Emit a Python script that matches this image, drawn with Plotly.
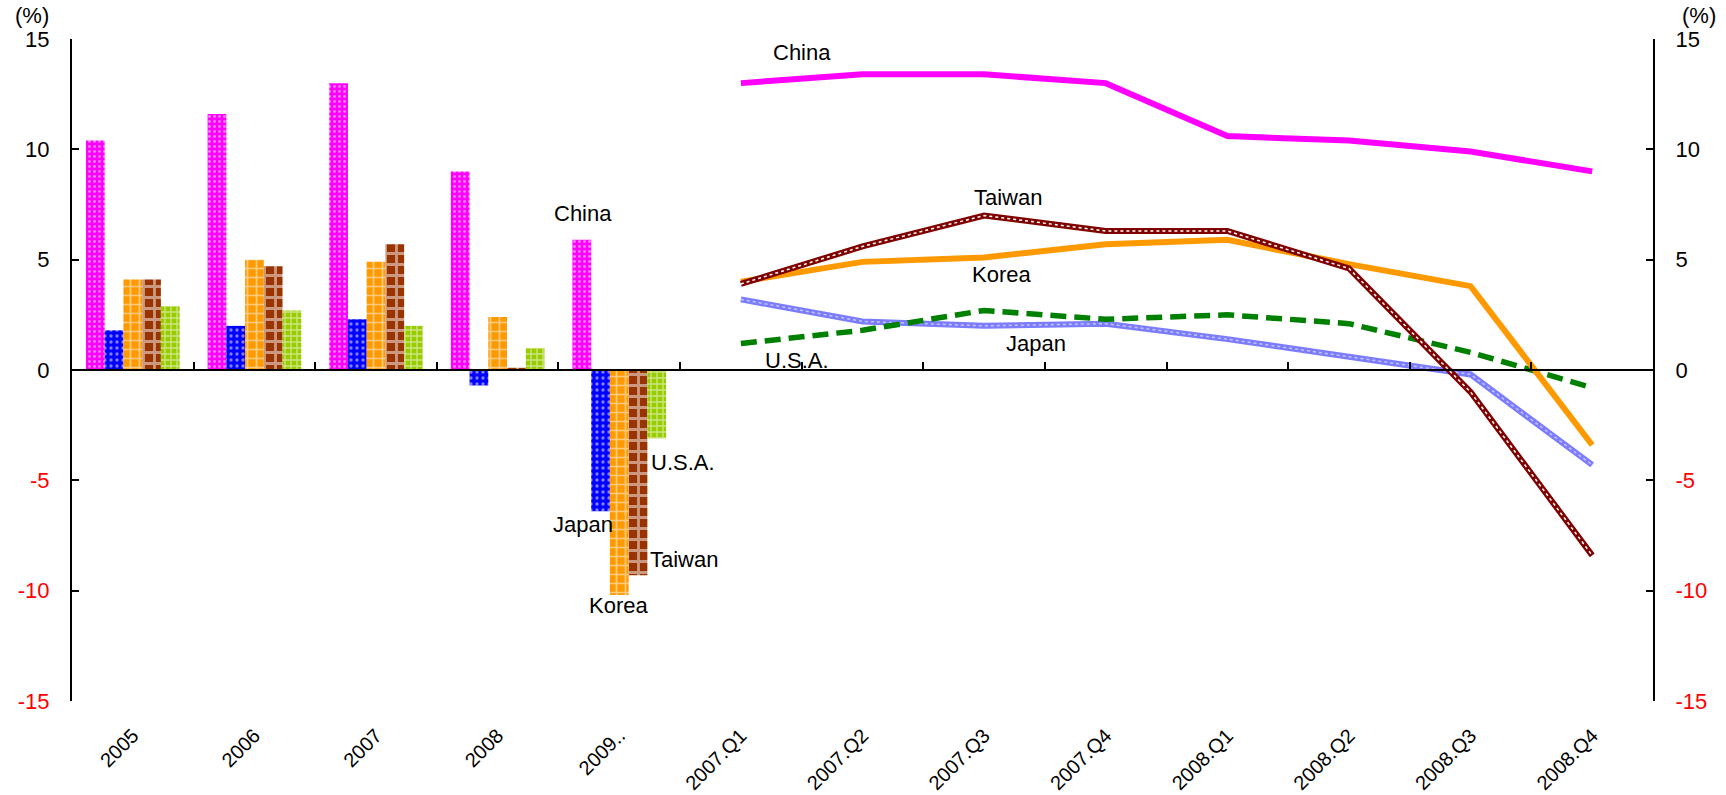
import plotly.graph_objects as go

# Category axis: annual results (bars) followed by quarterly results (lines)
years = ["2005", "2006", "2007", "2008", "2009.."]
quarters = ["2007.Q1", "2007.Q2", "2007.Q3", "2007.Q4",
            "2008.Q1", "2008.Q2", "2008.Q3", "2008.Q4"]
categories = years + quarters

# Annual real GDP growth (%)
china_y = [10.4, 11.6, 13.0, 9.0, 5.9]
japan_y = [1.8, 2.0, 2.3, -0.7, -6.4]
korea_y = [4.1, 5.0, 4.9, 2.4, -10.2]
taiwan_y = [4.1, 4.7, 5.7, 0.1, -9.3]
usa_y = [2.9, 2.7, 2.0, 1.0, -3.1]

# Quarterly real GDP growth, year on year (%)
china_q = [13.0, 13.4, 13.4, 13.0, 10.6, 10.4, 9.9, 9.0]
japan_q = [3.2, 2.2, 2.0, 2.1, 1.4, 0.6, -0.2, -4.3]
korea_q = [4.0, 4.9, 5.1, 5.7, 5.9, 4.8, 3.8, -3.4]
taiwan_q = [3.9, 5.6, 7.0, 6.3, 6.3, 4.6, -1.0, -8.4]
usa_q = [1.2, 1.8, 2.7, 2.3, 2.5, 2.1, 0.8, -0.8]

# Value axis ticks
y_ticks = [-15, -10, -5, 0, 5, 10, 15]
y_ticktext = [f"<span style='color:#ff0000'>{v}</span>" if v < 0 else str(v) for v in y_ticks]

FONT = "Arial, 'Liberation Sans', sans-serif"
FS = 22
FS_X = 20

fig = go.Figure()

# Annual bars with patterned fills
bar_specs = [
    ("China", china_y, "#ff00ff", ".", 5, 0.25),
    ("Japan", japan_y, "#0000ff", ".", 6, 0.25),
    ("Korea", korea_y, "#ff9900", "+", 9, 0.35),
    ("Taiwan", taiwan_y, "#993300", "+", 11, 0.45),
    ("U.S.A.", usa_y, "#99cc00", "+", 6, 0.4),
]
for name, vals, col, shape, size, sol in bar_specs:
    fig.add_trace(go.Bar(
        x=years, y=vals, name=name, xaxis="x", yaxis="y",
        marker=dict(color=col, line=dict(width=0),
                    pattern=dict(shape=shape, fgcolor="white", size=size,
                                 solidity=sol, fillmode="overlay")),
        showlegend=False,
    ))

# Quarterly lines
fig.add_trace(go.Scatter(x=quarters, y=japan_q, mode="lines", xaxis="x2", yaxis="y2",
                         line=dict(color="#7c7cff", width=6), showlegend=False))
fig.add_trace(go.Scatter(x=quarters, y=japan_q, mode="lines", xaxis="x2", yaxis="y2",
                         line=dict(color="#c4c4ff", width=1.5, dash="dot"), showlegend=False))
fig.add_trace(go.Scatter(x=quarters, y=usa_q, mode="lines", xaxis="x2", yaxis="y2",
                         line=dict(color="#008000", width=5.5, dash="16px,8px"), showlegend=False))
fig.add_trace(go.Scatter(x=quarters, y=korea_q, mode="lines", xaxis="x2", yaxis="y2",
                         line=dict(color="#ff9900", width=6), showlegend=False))
fig.add_trace(go.Scatter(x=quarters, y=taiwan_q, mode="lines", xaxis="x2", yaxis="y2",
                         line=dict(color="#800000", width=6), showlegend=False))
fig.add_trace(go.Scatter(x=quarters, y=taiwan_q, mode="lines", xaxis="x2", yaxis="y2",
                         line=dict(color="#ffffff", width=1.5, dash="dot"), showlegend=False))
fig.add_trace(go.Scatter(x=quarters, y=china_q, mode="lines", xaxis="x2", yaxis="y2",
                         line=dict(color="#ff00ff", width=6), showlegend=False))

# Series labels (x in category index units)
labels = [
    ("China", 3.70, 7.1), ("Japan", 3.70, -7.0), ("Korea", 3.99, -10.65),
    ("Taiwan", 4.53, -8.6), ("U.S.A.", 4.52, -4.2),
    ("China", 5.50, 14.4), ("Taiwan", 7.20, 7.8), ("Korea", 7.14, 4.35),
    ("Japan", 7.43, 1.2), ("U.S.A.", 5.46, 0.45),
]
annotations = [
    dict(text=t, x=x, y=y, xref="x", yref="y", showarrow=False,
         font=dict(family=FONT, size=FS, color="black"))
    for t, x, y in labels
]
annotations += [
    dict(text="(%)", xref="paper", yref="paper", x=0, y=1, xanchor="right", yanchor="bottom",
         xshift=-21, yshift=9, showarrow=False, font=dict(family=FONT, size=FS, color="black")),
    dict(text="(%)", xref="paper", yref="paper", x=1, y=1, xanchor="left", yanchor="bottom",
         xshift=27, yshift=9, showarrow=False, font=dict(family=FONT, size=FS, color="black")),
]

cat_range = [-0.5, len(categories) - 0.5]
yax = dict(range=[-15, 15], tickvals=y_ticks, ticktext=y_ticktext, ticks="inside",
           ticklen=7, tickwidth=1.5, tickcolor="black", showline=True, linecolor="black",
           linewidth=2, showgrid=False, zeroline=False, automargin=False,
           tickfont=dict(family=FONT, size=FS, color="black"), ticklabelstandoff=16)

fig.update_layout(
    width=1726, height=795, autosize=False,
    margin=dict(l=72, r=73, t=39, b=94),
    paper_bgcolor="white", plot_bgcolor="white",
    barmode="group", bargap=0.23, bargroupgap=0,
    font=dict(family=FONT, size=FS, color="black"),
    xaxis=dict(type="category", categoryorder="array", categoryarray=categories,
               range=cat_range, showline=False, ticks="", showgrid=False, zeroline=False,
               tickangle=-45, tickfont=dict(family=FONT, size=FS_X, color="black"),
               ticklabelstandoff=18, automargin=False),
    xaxis2=dict(type="category", categoryorder="array", categoryarray=categories,
                range=cat_range, overlaying="x", anchor="free", position=0.5,
                showline=True, linecolor="black", linewidth=2, ticks="inside",
                tickson="boundaries", ticklen=7, tickwidth=1.5, tickcolor="black",
                showticklabels=False, showgrid=False, zeroline=False, automargin=False),
    yaxis=dict(**yax, side="left", anchor="x"),
    yaxis2=dict(**yax, side="right", overlaying="y", anchor="x"),
    annotations=annotations,
)

fig.write_html("out.html")
